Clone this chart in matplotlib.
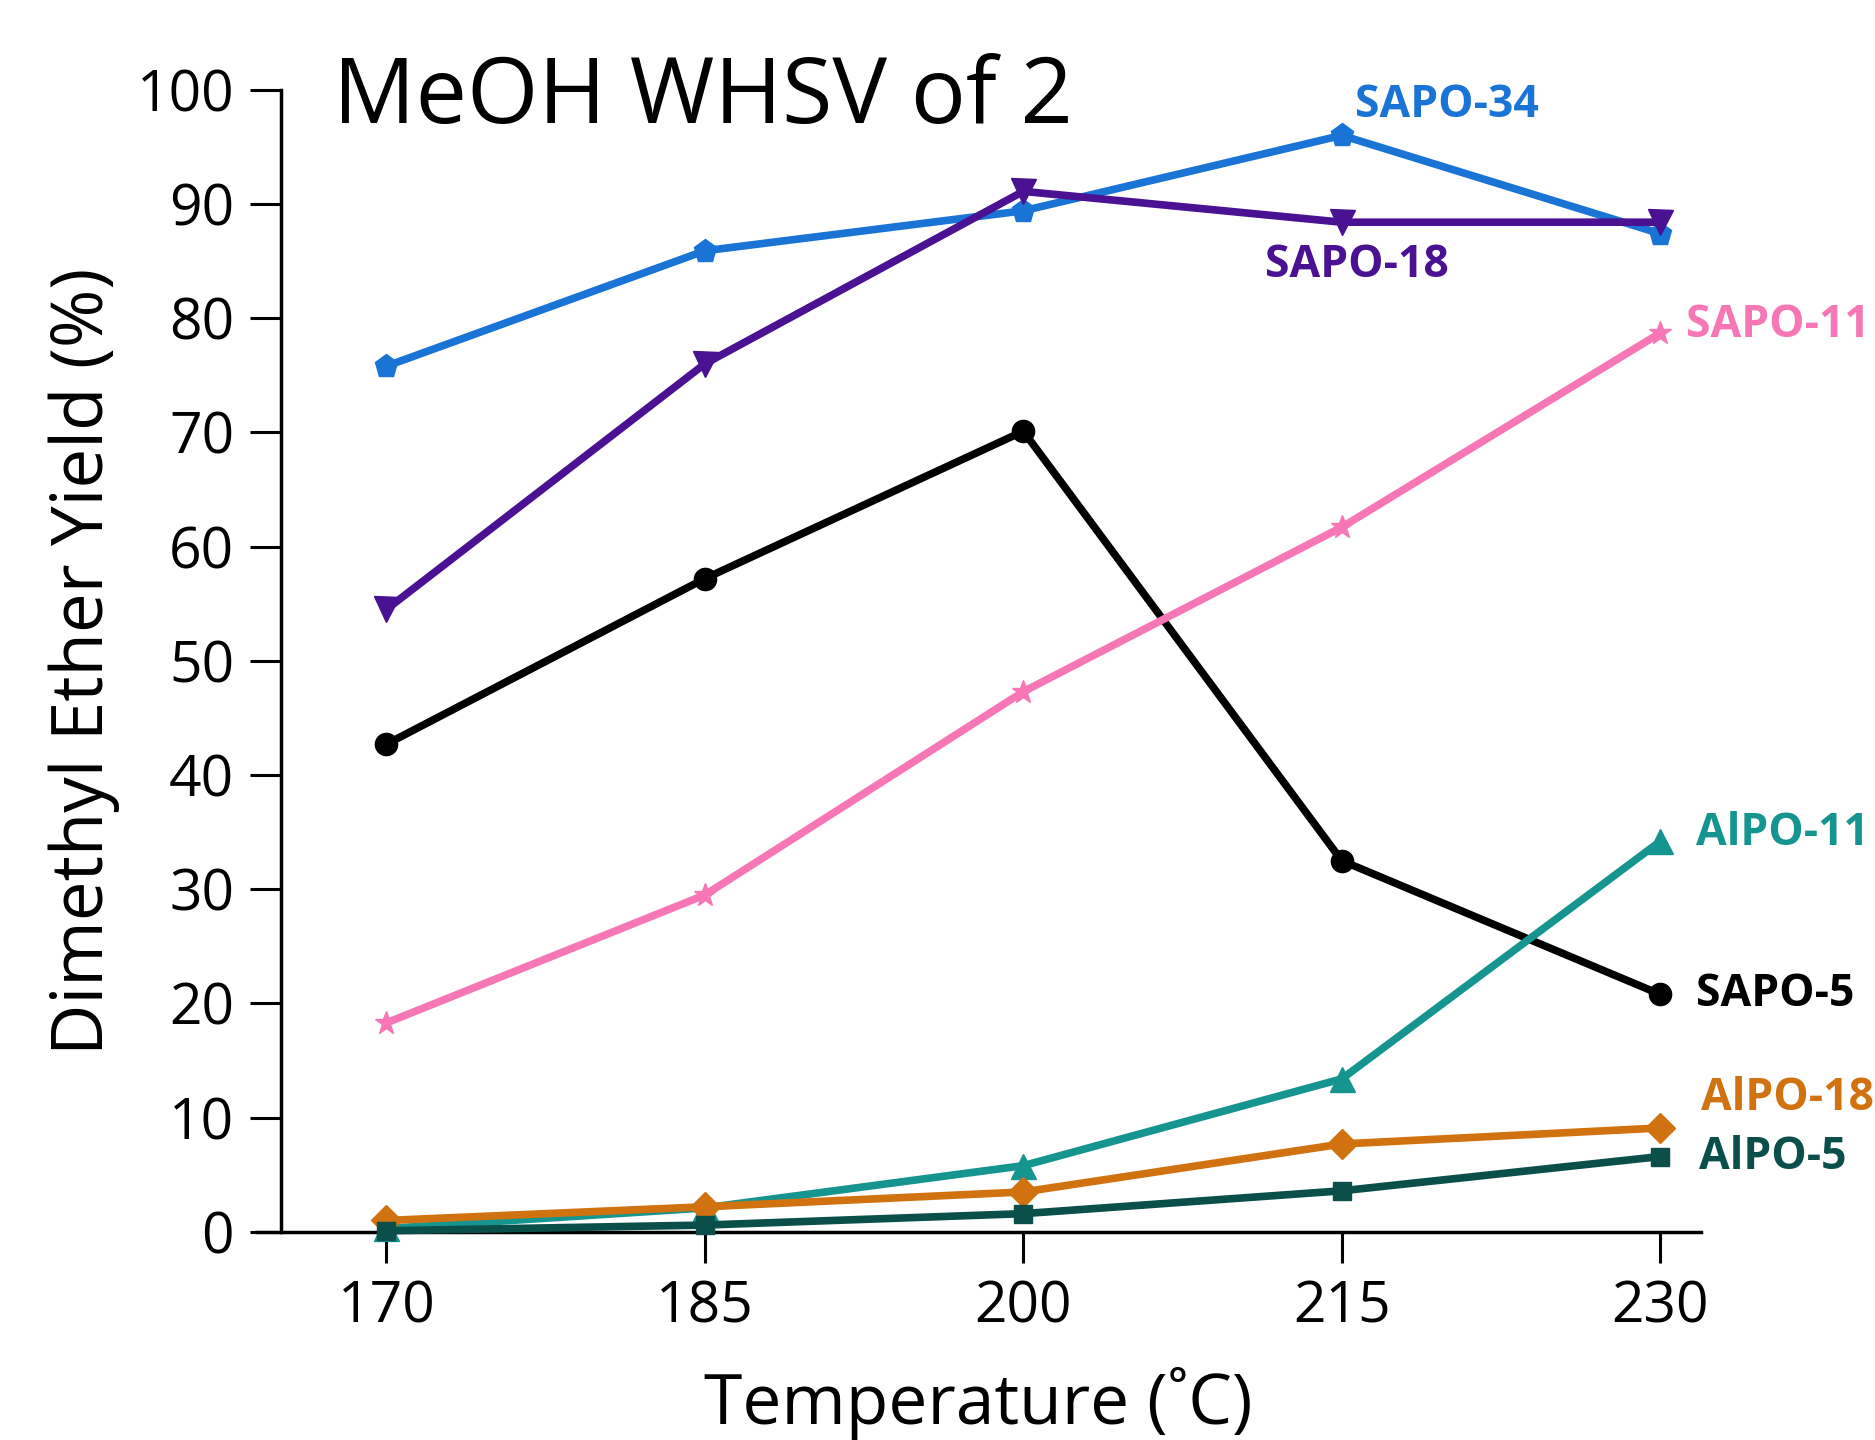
import matplotlib.pyplot as plt

# Данные: температура и выход диметилового эфира (%)
temps = [170, 185, 200, 215, 230]

sapo34 = [75.8, 85.9, 89.4, 96.0, 87.4]
sapo18 = [54.5, 76.0, 91.1, 88.4, 88.4]
sapo5 = [42.7, 57.2, 70.1, 32.5, 20.8]
sapo11 = [18.3, 29.5, 47.3, 61.7, 78.7]
alpo11 = [0.3, 2.1, 5.8, 13.4, 34.2]
alpo18 = [1.0, 2.2, 3.5, 7.7, 9.1]
alpo5 = [0.1, 0.6, 1.6, 3.6, 6.6]

names = ['SAPO-34', 'SAPO-18', 'SAPO-5', 'SAPO-11', 'AlPO-11', 'AlPO-18', 'AlPO-5']
series = [sapo34, sapo18, sapo5, sapo11, alpo11, alpo18, alpo5]
colors = ['#1a74d6', '#4a1192', '#000000', '#f776b6', '#16948f', '#d0720f', '#0b4f4a']
markers = ['p', 'v', 'o', '*', '^', 'D', 's']
msizes = [17, 18, 16, 17, 18, 15, 13]

# позиции подписей (в координатах данных)
label_pos = [(215.6, 98.6), (211.4, 84.6), (231.7, 20.8), (231.2, 79.4),
             (231.7, 34.9), (231.9, 11.7), (231.8, 6.5)]

plt.rcParams['font.family'] = ['Open Sans', 'DejaVu Sans']

fig = plt.figure(figsize=(18.75, 14.4), dpi=100)
ax = fig.add_axes([0.137, 0.1445, 0.770, 0.7932])

for ys, c, m, ms in zip(series, colors, markers, msizes):
    ax.plot(temps, ys, color=c, lw=5.5, marker=m, ms=ms, clip_on=False, zorder=3)

for name, c, (x, y) in zip(names, colors, label_pos):
    ax.text(x, y, name, color=c, fontsize=32, fontweight='bold',
            va='center', ha='left', clip_on=False)

ax.text(167.5, 99.2, 'MeOH WHSV of 2', fontsize=66, va='center', ha='left')

ax.set_xlim(163.9, 231.9)
ax.set_ylim(0, 100)
ax.set_xticks(temps)
ax.set_yticks(range(0, 101, 10))

ax.spines['top'].set_visible(False)
ax.spines['right'].set_visible(False)
ax.spines['left'].set_position(('data', 165.05))
ax.spines['left'].set_linewidth(2.5)
ax.spines['bottom'].set_linewidth(2.5)
ax.tick_params(axis='both', direction='out', length=22, width=2.2, labelsize=41, pad=12)

ax.set_xlabel('Temperature (˚C)', fontsize=50, labelpad=22)
ax.set_ylabel('Dimethyl Ether Yield (%)', fontsize=51, labelpad=12)

fig.savefig('out.png', dpi=100)
